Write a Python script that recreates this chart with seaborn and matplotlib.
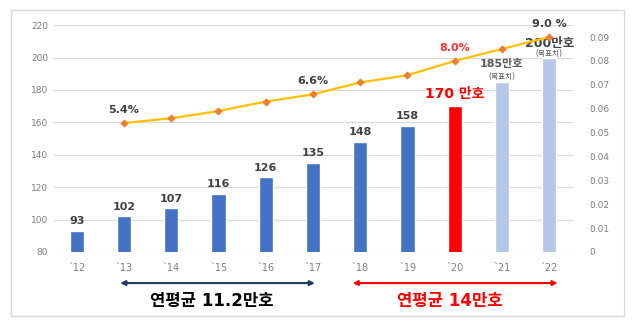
import numpy as np
import pandas as pd
import matplotlib
matplotlib.use("Agg")
import matplotlib.pyplot as plt
import seaborn as sns

sns.set_theme(style="white")
plt.rcParams['font.family'] = ['DejaVu Sans', 'Noto Sans CJK KR']

# Housing supply (만호) and penetration rate by year
years = ["`12", "`13", "`14", "`15", "`16", "`17", "`18", "`19", "`20", "`21", "`22"]
households = [93, 102, 107, 116, 126, 135, 148, 158, 170, 185, 200]
bar_colors = ["#4472C4"] * 8 + ["#FF0000", "#B4C7E7", "#B4C7E7"]
rate_years = ["`13", "`14", "`15", "`16", "`17", "`18", "`19", "`20", "`21", "`22"]
rates = [0.054, 0.056, 0.059, 0.063, 0.066, 0.071, 0.074, 0.080, 0.085, 0.090]
rate_labels = {"`13": "5.4%", "`17": "6.6%", "`20": "8.0%", "`22": "9.0 %"}

df = pd.DataFrame({"year": years, "households": households})
rate_df = pd.DataFrame({"pos": [years.index(y) for y in rate_years], "rate": rates})

fig = plt.figure(figsize=(6.4, 3.26), dpi=100)
fig.patches.append(plt.Rectangle((0.017, 0.03), 0.958, 0.94, transform=fig.transFigure,
                                 fill=False, edgecolor="#D9D9D9", linewidth=1))
ax = fig.add_axes([0.083, 0.227, 0.812, 0.696])

sns.barplot(data=df, x="year", y="households", hue="year", palette=bar_colors,
            legend=False, width=0.3, ax=ax, saturation=1)
ax.set_ylim(80, 220)
ax.set_yticks(range(80, 221, 20))
ax.set_xlim(-0.5, len(years) - 0.5)
ax.grid(axis="y", color="#D9D9D9", linewidth=0.8)
ax.set_axisbelow(True)
for s in ax.spines.values():
    s.set_visible(False)
ax.set_xlabel("")
ax.set_ylabel("")
ax.tick_params(axis="both", length=0, colors="#7F7F7F", labelsize=6.5)
ax.tick_params(axis="x", pad=8, labelsize=7)

# value labels above the bars
for i, (y, v) in enumerate(zip(years, households)):
    if y == "`20":
        ax.text(i, v + 7.5, f"{v} 만호", ha="center", va="center", color="#FF0000",
                fontsize=10, fontweight="bold")
    elif y == "`21":
        ax.text(i, v + 11, f"{v}만호", ha="center", va="center", color="#595959",
                fontsize=8, fontweight="bold")
        ax.text(i, v + 3.2, "(목표치)", ha="center", va="center", color="#595959",
                fontsize=5.5)
    elif y == "`22":
        ax.text(i, v + 8.5, f"{v}만호", ha="center", va="center", color="#404040",
                fontsize=9, fontweight="bold")
        ax.text(i, v + 2.2, "(목표치)", ha="center", va="center", color="#595959",
                fontsize=5.5)
    else:
        ax.text(i, v + 6, str(v), ha="center", va="center", color="#404040",
                fontsize=8, fontweight="bold")

ax2 = ax.twinx()
sns.lineplot(data=rate_df, x="pos", y="rate", ax=ax2, color="#FFC000", linewidth=1.6,
             marker="D", markersize=3.5, markerfacecolor="#ED7D31",
             markeredgecolor="#ED7D31")
ax2.set_ylim(0, 0.095)
ax2.set_yticks(np.arange(0, 0.091, 0.01))
ax2.set_yticklabels(["0"] + [f"{t:.2f}" for t in np.arange(0.01, 0.091, 0.01)])
for s in ax2.spines.values():
    s.set_visible(False)
ax2.set_xlabel("")
ax2.set_ylabel("")
ax2.tick_params(axis="y", length=0, colors="#7F7F7F", labelsize=6.5, pad=12)
ax2.set_xlim(-0.5, len(years) - 0.5)

for y, r in zip(rate_years, rates):
    if y in rate_labels:
        col = "#FF3333" if y == "`20" else "#404040"
        ax2.text(years.index(y), r + 0.0054, rate_labels[y], ha="center", va="center",
                 color=col, fontsize=8, fontweight="bold")

# average-growth arrows under the axis
arrow_y = -0.137
ax.annotate("", xy=(5.04, arrow_y), xytext=(0.92, arrow_y), xycoords=("data", "axes fraction"),
            textcoords=("data", "axes fraction"),
            arrowprops=dict(arrowstyle="<|-|>", color="#1F3864", lw=1.5,
                            mutation_scale=7, shrinkA=0, shrinkB=0), annotation_clip=False)
ax.text(2.86, -0.215, "연평균 11.2만호", transform=ax.get_xaxis_transform(), ha="center",
        va="center", fontsize=12, fontweight="bold", color="#000000")
ax.annotate("", xy=(10.18, arrow_y), xytext=(5.84, arrow_y), xycoords=("data", "axes fraction"),
            textcoords=("data", "axes fraction"),
            arrowprops=dict(arrowstyle="<|-|>", color="#FF0000", lw=1.5,
                            mutation_scale=7, shrinkA=0, shrinkB=0), annotation_clip=False)
ax.text(7.89, -0.215, "연평균 14만호", transform=ax.get_xaxis_transform(), ha="center",
        va="center", fontsize=12, fontweight="bold", color="#FF0000")

fig.savefig("out.png", dpi=100)
